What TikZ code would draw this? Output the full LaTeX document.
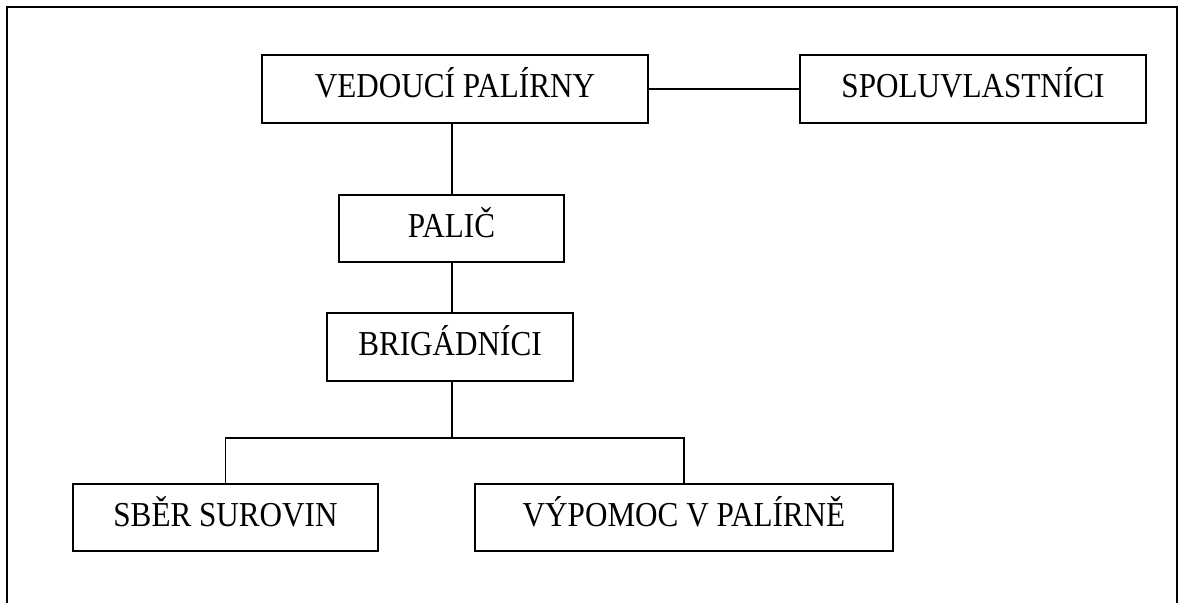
\documentclass[tikz,border=0pt]{standalone}
\usepackage{fontspec}
\setmainfont{Liberation Serif}[FakeStretch=0.89]
\begin{document}
\begin{tikzpicture}[x=1bp,y=-1bp,
  orgbox/.style={draw, line width=1.6bp, inner sep=0pt, align=center,
    text height=23bp, text depth=5.8bp,
    font=\fontsize{35bp}{41bp}\selectfont},
  link/.style={line width=1.6bp}]
\useasboundingbox (0,0) rectangle (1180,603);
\draw[line width=2bp] (7,603) -- (7,7) -- (1177,7) -- (1177,603);
\node[orgbox, minimum width=386bp, minimum height=68bp] (ved) at (455,89) {VEDOUCÍ PALÍRNY};
\node[orgbox, minimum width=346bp, minimum height=68bp] (spol) at (973,89) {SPOLUVLASTNÍCI};
\node[orgbox, minimum width=225bp, minimum height=67bp] (pal) at (451.5,228.5) {PALIČ};
\node[orgbox, minimum width=246bp, minimum height=68bp] (brig) at (450,347) {BRIGÁDNÍCI};
\node[orgbox, minimum width=305bp, minimum height=67bp] (sber) at (225.5,517.5) {SBĚR SUROVIN};
\node[orgbox, minimum width=418bp, minimum height=67bp] (vyp) at (684,517.5) {VÝPOMOC V PALÍRNĚ};
\coordinate (bus) at (452,438);
\draw[link] (ved.east) -- (spol.west);
\draw[link] (ved.south -| bus) -- (pal.north -| bus);
\draw[link] (pal.south -| bus) -- (brig.north -| bus);
\draw[link] (brig.south -| bus) -- (bus);
\draw[link] (sber.north) |- (bus) -| (vyp.north);
\end{tikzpicture}
\end{document}
